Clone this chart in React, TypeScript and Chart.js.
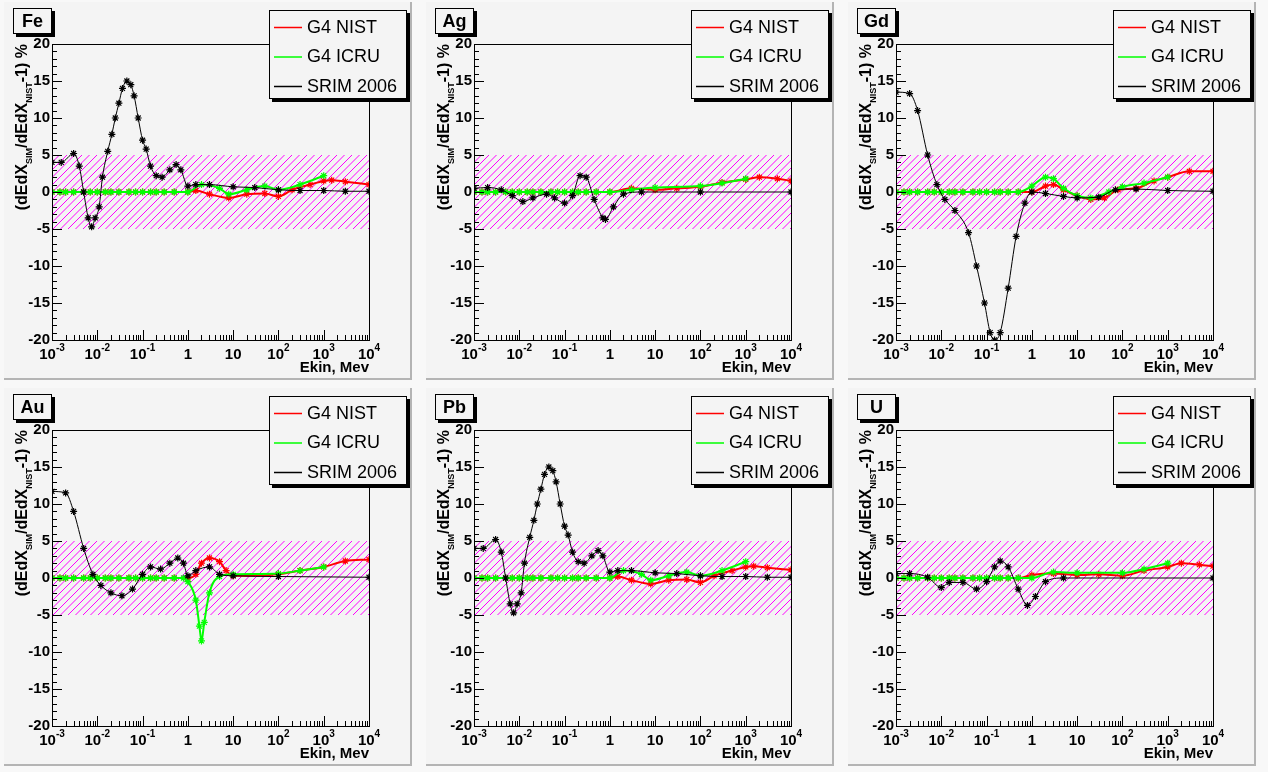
import React, { useEffect, useRef } from "react";
import { Chart, registerables } from "chart.js";
Chart.register(...registerables);

const legendLabels = ["G4 NIST", "G4 ICRU", "SRIM 2006"];
const yTicks = [-20, -15, -10, -5, 0, 5, 10, 15, 20];
const xDecades = [-3, -2, -1, 0, 1, 2, 3, 4];

const lowX = [0.001, 0.0015, 0.002, 0.003, 0.005, 0.007, 0.01, 0.015, 0.02, 0.03, 0.05, 0.07, 0.1, 0.15, 0.2, 0.3, 0.5];
const lowY = lowX.map(() => 0);

const feSrimX = [0.001, 0.0016, 0.003, 0.004, 0.005, 0.0063, 0.0075, 0.009, 0.011, 0.013, 0.017, 0.021, 0.025, 0.03, 0.036, 0.045, 0.055, 0.065, 0.08, 0.1, 0.12, 0.15, 0.2, 0.27, 0.4, 0.55, 0.7, 1, 1.5, 3, 10, 30, 100, 300, 1000, 3000, 10000];
const feSrimY = [4, 4, 5.2, 3.5, 0, -3.5, -4.7, -3.5, -2, 2, 5.5, 7.8, 10, 12, 14, 15, 14.5, 13, 10, 7, 5.8, 3.5, 2.2, 2, 3, 3.7, 3, 0.8, 1, 1, 0.7, 0.6, 0.3, 0.2, 0.2, 0.1, 0.1];
const feNistX = [1, 1.5, 3, 8, 20, 50, 100, 200, 500, 1000, 1500, 3000, 10000];
const feNistY = [0, 0.2, -0.3, -0.8, -0.3, -0.2, -0.6, 0.3, 1, 1.5, 1.6, 1.4, 1];
const feIcruX = [1, 2, 5, 8, 20, 50, 100, 300, 1000];
const feIcruY = [0, 1, 0.5, -0.3, 0.3, 0.8, 0.3, 1, 2.2];

const agSrimX = [0.001, 0.002, 0.004, 0.007, 0.012, 0.02, 0.04, 0.06, 0.1, 0.15, 0.22, 0.3, 0.45, 0.7, 0.8, 1.2, 2, 5, 100, 10000];
const agSrimY = [0.5, 0.6, 0.3, -0.5, -1.3, -0.8, -0.3, -0.8, -1.5, -0.5, 2.2, 2, -1, -3.5, -3.7, -2, -0.3, 0, 0, 0];
const agNistX = [1, 3, 10, 30, 100, 300, 1000, 2000, 5000, 10000];
const agNistY = [0, 0.5, 0.3, 0.5, 0.7, 1.3, 1.7, 2, 1.8, 1.5];
const agIcruX = [1, 3, 10, 100, 300, 1000];
const agIcruY = [0, 0.3, 0.6, 0.8, 1.2, 1.8];

const gdSrimX = [0.001, 0.002, 0.003, 0.005, 0.008, 0.012, 0.02, 0.04, 0.06, 0.09, 0.12, 0.15, 0.2, 0.3, 0.45, 0.7, 1, 2, 5, 10, 30, 70, 200, 1000, 10000];
const gdSrimY = [13.5, 13.3, 11, 5, 1, -1, -2.5, -5.5, -10, -15, -19, -20, -19, -13, -6, -1.5, 0, -0.2, -0.6, -0.8, -0.7, 0.3, 0.4, 0.2, 0.1];
const gdNistX = [1, 2, 3, 5, 10, 20, 40, 80, 200, 500, 1000, 3000, 10000];
const gdNistY = [0, 0.8, 1, 0.3, -0.5, -1, -0.8, 0.3, 0.5, 1.5, 2, 2.8, 2.8];
const gdIcruX = [0.5, 1, 2, 3, 5, 10, 20, 50, 100, 300, 1000];
const gdIcruY = [0, 0.8, 2, 1.8, 0.5, -0.5, -0.8, 0, 0.7, 1.2, 2];

const auSrimX = [0.001, 0.002, 0.003, 0.005, 0.008, 0.012, 0.02, 0.035, 0.06, 0.1, 0.15, 0.25, 0.4, 0.6, 0.8, 1, 1.5, 3, 5, 10, 100, 10000];
const auSrimY = [11.7, 11.5, 9, 4, 0.5, -1, -2, -2.4, -1.5, 0.5, 1.5, 1.2, 2, 2.7, 2, 0.3, 1, 1.5, 0.5, 0.3, 0.2, 0.1];
const auNistX = [1, 1.5, 2, 3, 5, 7, 10, 100, 300, 1000, 3000, 10000];
const auNistY = [0, 0.5, 2, 2.7, 2.2, 1, 0.3, 0.5, 1, 1.5, 2.3, 2.5];
const auIcruX = [0.8, 1, 1.5, 1.8, 2, 2.3, 3, 5, 10, 100, 300, 1000];
const auIcruY = [0, -0.5, -3, -6.5, -8.5, -6, -2, 0.2, 0.5, 0.6, 1, 1.5];

const pbSrimX = feSrimX;
const pbSrimY = [4, 4, 5.2, 3.5, 0, -3.5, -4.7, -3.5, -2, 2, 5.5, 7.8, 10, 12, 14, 15, 14.5, 13, 10, 7, 5.8, 3.5, 2.2, 2, 3, 3.7, 3, 0.8, 1, 1, 0.7, 0.6, 0.3, 0.2, 0.2, 0.1, 0.1];
const pbNistX = [1, 1.5, 3, 8, 20, 50, 100, 200, 500, 1000, 1500, 3000, 10000];
const pbNistY = [0, 0.2, -0.3, -0.8, -0.3, -0.2, -0.6, 0.3, 1, 1.5, 1.6, 1.4, 1.1];
const pbIcruX = [1, 2, 5, 8, 20, 50, 100, 300, 1000];
const pbIcruY = [0, 1, 0.5, -0.3, 0.3, 0.8, 0.3, 1, 2.2];

const uSrimX = [0.001, 0.002, 0.005, 0.01, 0.015, 0.03, 0.06, 0.1, 0.15, 0.2, 0.3, 0.5, 0.8, 1.2, 2, 5, 10000];
const uSrimY = [0.6, 0.6, 0.1, -1.3, -0.6, -0.6, -1.5, -0.5, 1.5, 2.3, 1.5, -1.5, -3.7, -2.5, -0.5, 0, 0];
const uNistX = [0.5, 1, 3, 10, 30, 100, 300, 1000, 2000, 5000, 10000];
const uNistY = [0, 0.4, 0.6, 0.4, 0.5, 0.3, 1, 1.5, 2, 1.8, 1.6];
const uIcruX = [1, 3, 10, 100, 300, 1000];
const uIcruY = [0, 0.8, 0.7, 0.7, 1.2, 2];

const panels = [
  { name: "Fe", srim: [feSrimX, feSrimY], nist: [feNistX, feNistY], icru: [feIcruX, feIcruY] },
  { name: "Ag", srim: [agSrimX, agSrimY], nist: [agNistX, agNistY], icru: [agIcruX, agIcruY] },
  { name: "Gd", srim: [gdSrimX, gdSrimY], nist: [gdNistX, gdNistY], icru: [gdIcruX, gdIcruY] },
  { name: "Au", srim: [auSrimX, auSrimY], nist: [auNistX, auNistY], icru: [auIcruX, auIcruY] },
  { name: "Pb", srim: [pbSrimX, pbSrimY], nist: [pbNistX, pbNistY], icru: [pbIcruX, pbIcruY] },
  { name: "U", srim: [uSrimX, uSrimY], nist: [uNistX, uNistY], icru: [uIcruX, uIcruY] },
];

const PW = 406, PH = 376;
const FL = 48, FT = 42, FR = 365, FB = 338;
const FONT = "'Liberation Sans', Arial, sans-serif";

function pts(xs: number[], ys: number[], withLow: boolean) {
  const arr: { x: number; y: number }[] = [];
  if (withLow) lowX.forEach((x, i) => { if (x < xs[0]) arr.push({ x, y: lowY[i] }); });
  xs.forEach((x, i) => arr.push({ x, y: ys[i] }));
  return arr;
}

function supText(ctx: CanvasRenderingContext2D, base: string, sup: string, cx: number, y: number) {
  ctx.font = `bold 15px ${FONT}`;
  const w1 = ctx.measureText(base).width;
  ctx.font = `bold 10px ${FONT}`;
  const w2 = sup ? ctx.measureText(sup).width : 0;
  const x = cx - (w1 + w2) / 2;
  ctx.textAlign = "left";
  ctx.textBaseline = "alphabetic";
  ctx.font = `bold 15px ${FONT}`;
  ctx.fillText(base, x, y);
  if (sup) {
    ctx.font = `bold 10px ${FONT}`;
    ctx.fillText(sup, x + w1, y - 8);
  }
}

function makePlugin(name: string) {
  return {
    id: "root" + name,
    beforeDatasetsDraw(chart: any) {
      const { ctx, chartArea: a, scales } = chart;
      const y1 = scales.y.getPixelForValue(5), y2 = scales.y.getPixelForValue(-5);
      ctx.save();
      ctx.beginPath();
      ctx.rect(a.left, y1, a.right - a.left, y2 - y1);
      ctx.clip();
      ctx.strokeStyle = "#ff00ff";
      ctx.lineWidth = 1;
      ctx.beginPath();
      for (let s = a.left - (y2 - y1); s < a.right + 10; s += 7.5) {
        ctx.moveTo(s, y2);
        ctx.lineTo(s + (y2 - y1), y1);
      }
      ctx.stroke();
      ctx.restore();
    },
    afterDraw(chart: any) {
      const { ctx, chartArea: a, scales } = chart;
      ctx.save();
      ctx.strokeStyle = "#000";
      ctx.fillStyle = "#000";
      ctx.lineWidth = 1;
      ctx.strokeRect(a.left + 0.5, a.top + 0.5, a.right - a.left, a.bottom - a.top);
      ctx.beginPath();
      for (let v = -20; v <= 20; v++) {
        const py = Math.round(scales.y.getPixelForValue(v)) + 0.5;
        const len = v % 5 === 0 ? 10 : 5;
        ctx.moveTo(a.left, py);
        ctx.lineTo(a.left + len, py);
      }
      for (let d = -3; d <= 4; d++) {
        for (let m = 1; m <= 9; m++) {
          const v = m * Math.pow(10, d);
          if (v > 10000.0001) break;
          const px = Math.round(scales.x.getPixelForValue(v)) + 0.5;
          const len = m === 1 ? 10 : 5;
          ctx.moveTo(px, a.bottom);
          ctx.lineTo(px, a.bottom - len);
        }
      }
      ctx.stroke();
      ctx.font = `bold 15px ${FONT}`;
      ctx.textAlign = "right";
      ctx.textBaseline = "middle";
      yTicks.forEach((v) => ctx.fillText(String(v), a.left - 2, scales.y.getPixelForValue(v)));
      xDecades.forEach((d) => {
        const px = scales.x.getPixelForValue(Math.pow(10, d));
        if (d === 0) supText(ctx, "1", "", px, a.bottom + 19);
        else if (d === 1) supText(ctx, "10", "", px, a.bottom + 19);
        else supText(ctx, "10", String(d), px, a.bottom + 19);
      });
      ctx.font = `bold 15px ${FONT}`;
      ctx.textAlign = "right";
      ctx.textBaseline = "alphabetic";
      ctx.fillText("Ekin, Mev", a.right, a.bottom + 32);
      // y title
      ctx.save();
      ctx.translate(23, a.top);
      ctx.rotate(-Math.PI / 2);
      const parts: [string, boolean][] = [["(dEdX", false], ["SIM", true], ["/dEdX", false], ["NIST", true], ["-1) %", false]];
      let total = 0;
      parts.forEach(([t, s]) => { ctx.font = s ? `bold 9px ${FONT}` : `bold 16px ${FONT}`; total += ctx.measureText(t).width; });
      let x = -total;
      ctx.textAlign = "left";
      parts.forEach(([t, s]) => {
        ctx.font = s ? `bold 9px ${FONT}` : `bold 16px ${FONT}`;
        ctx.fillText(t, x, s ? 5 : 0);
        x += ctx.measureText(t).width;
      });
      ctx.restore();
      // title box
      ctx.fillStyle = "#000";
      ctx.fillRect(12, 9, 39, 26);
      ctx.fillStyle = "#f4f4f4";
      ctx.fillRect(9, 6, 39, 26);
      ctx.strokeStyle = "#000";
      ctx.strokeRect(9.5, 6.5, 38, 25);
      ctx.fillStyle = "#000";
      ctx.font = `bold 18px ${FONT}`;
      ctx.textAlign = "center";
      ctx.textBaseline = "middle";
      ctx.fillText(name, 28.5, 20);
      // legend
      ctx.fillRect(268, 11, 138, 89);
      ctx.fillStyle = "#f4f4f4";
      ctx.fillRect(265, 8, 138, 89);
      ctx.strokeRect(265.5, 8.5, 137, 88);
      const cols = ["#ff0000", "#00ff00", "#000000"];
      ctx.font = `18px ${FONT}`;
      ctx.textAlign = "left";
      legendLabels.forEach((l, i) => {
        const yy = 25 + i * 29.5;
        ctx.strokeStyle = cols[i];
        ctx.lineWidth = 1.5;
        ctx.beginPath();
        ctx.moveTo(270, yy + 0.5);
        ctx.lineTo(298, yy + 0.5);
        ctx.stroke();
        ctx.fillStyle = "#000";
        ctx.fillText(l, 303, yy + 1);
      });
      ctx.restore();
    },
  };
}

function Pad({ p }: { p: (typeof panels)[number] }) {
  const ref = useRef<HTMLCanvasElement>(null);
  useEffect(() => {
    const ds = (data: any, color: string, lw: number) => ({
      data,
      borderColor: color,
      backgroundColor: color,
      borderWidth: lw,
      pointStyle: "star",
      pointRadius: 3.5,
      pointBorderWidth: 1.2,
      cubicInterpolationMode: "monotone",
      showLine: true,
    });
    const chart = new Chart(ref.current!, {
      type: "line",
      data: {
        datasets: [
          ds(pts(p.srim[0], p.srim[1], false), "#000000", 1),
          ds(pts(p.icru[0], p.icru[1], true), "#00ff00", 2),
          ds(pts(p.nist[0], p.nist[1], true), "#ff0000", 2),
        ] as any,
      },
      options: {
        animation: false,
        responsive: false,
        devicePixelRatio: 1,
        layout: { padding: { top: FT, right: PW - FR, left: 0, bottom: 0 } },
        plugins: { legend: { display: false }, tooltip: { enabled: false } },
        scales: {
          x: {
            type: "logarithmic", min: 0.001, max: 10000,
            grid: { display: false }, border: { display: false },
            ticks: { display: false },
            afterFit: (s: any) => { s.height = PH - FB; },
          },
          y: {
            min: -20, max: 20,
            grid: { display: false }, border: { display: false },
            ticks: { display: false },
            afterFit: (s: any) => { s.width = FL; },
          },
        },
      } as any,
      plugins: [makePlugin(p.name)],
    });
    return () => chart.destroy();
  }, [p]);
  return <canvas ref={ref} width={PW} height={PH} style={{ display: "block" }} />;
}

export default function App() {
  return (
    <div style={{ position: "fixed", left: 0, top: 0, width: 1268, height: 772, background: "#f8f8f8", overflow: "hidden" }}>
      {panels.map((p, i) => (
        <div key={p.name} style={{
          position: "absolute", left: 4 + (i % 3) * 422, top: 2 + Math.floor(i / 3) * 386,
          width: PW, height: PH, background: "#f4f4f4",
          borderRight: "2px solid #b4b4b4", borderBottom: "2px solid #b4b4b4",
        }}>
          <Pad p={p} />
        </div>
      ))}
    </div>
  );
}
